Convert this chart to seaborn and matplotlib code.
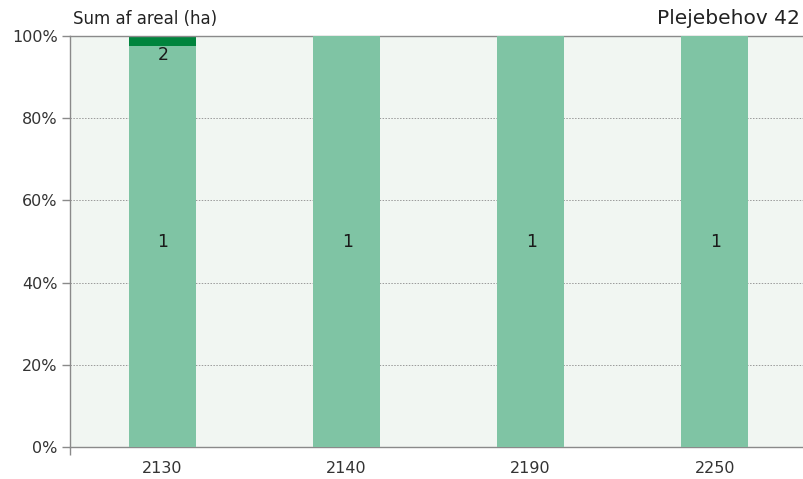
import matplotlib
matplotlib.use("Agg")
import matplotlib.pyplot as plt
import seaborn as sns
import pandas as pd
from matplotlib.ticker import FuncFormatter

# Share of area (%) per plan number, split into need groups 1 and 2
categories = ["2130", "2140", "2190", "2250"]
share_group1 = [97.6, 100.0, 100.0, 100.0]
share_group2 = [2.4, 0.0, 0.0, 0.0]
series_labels = ["1", "2"]

df = pd.DataFrame({
    "plan": categories,
    "g1": share_group1,
    "g2": share_group2,
})
df["total"] = df["g1"] + df["g2"]

sns.set_theme(style="white")
plt.rcParams["font.family"] = ["DejaVu Sans"]

fig = plt.figure(figsize=(8.04, 4.79), dpi=100)
ax = fig.add_axes([0.0871, 0.0668, 0.9166, 0.858])
ax.set_facecolor("#F1F6F2")

light = "#7FC4A4"
dark = "#00843D"

# Stacked bars: full height in the dark colour, group 1 over it in light green
sns.barplot(data=df, x="plan", y="total", order=categories, color=dark,
            width=0.365, saturation=1, linewidth=0, edgecolor="none",
            ax=ax, zorder=2)
sns.barplot(data=df, x="plan", y="g1", order=categories, color=light,
            width=0.365, saturation=1, linewidth=0, edgecolor="none",
            ax=ax, zorder=3)

# Segment labels
for i, row in df.iterrows():
    if row["g1"] > 0:
        ax.text(i + 0.005, 50, series_labels[0], ha="center", va="center",
                fontsize=12.5, color="#1a1a1a", zorder=4)
    if row["g2"] > 0:
        ax.text(i + 0.005, row["g1"] - 0.1, series_labels[1], ha="center", va="top",
                fontsize=12.5, color="#1a1a1a", zorder=4)

ax.set_xlim(-0.5, 3.5)
ax.set_ylim(0, 100)
ax.set_yticks([0, 20, 40, 60, 80, 100])
ax.yaxis.set_major_formatter(FuncFormatter(lambda v, p: f"{int(v)}%"))
ax.set_xlabel("")
ax.set_ylabel("")

for y in [20, 40, 60, 80]:
    ax.axhline(y, color="#9a9a9a", linestyle=(0, (1.5, 1.5)), linewidth=0.7, zorder=1)

ax.spines["right"].set_visible(False)
for side in ["left", "bottom", "top"]:
    ax.spines[side].set_color("#8a8a8a")
    ax.spines[side].set_linewidth(1.0)

ax.tick_params(axis="y", which="both", left=True, length=6, width=1,
               color="#8a8a8a", labelsize=11.5, labelcolor="#333333", pad=3)
ax.tick_params(axis="x", which="major", bottom=False, labelsize=11.5,
               labelcolor="#333333", pad=4)
ax.set_xticks([-0.5], minor=True)
ax.tick_params(axis="x", which="minor", bottom=True, length=6, width=1,
               color="#8a8a8a")

fig.text(0.091, 0.942, "Sum af areal (ha)", fontsize=12, color="#222222",
         ha="left", va="bottom")
fig.text(0.995, 0.942, "Plejebehov 42", fontsize=14.5, color="#222222",
         ha="right", va="bottom")

fig.savefig("out.png", dpi=100, facecolor="white")
